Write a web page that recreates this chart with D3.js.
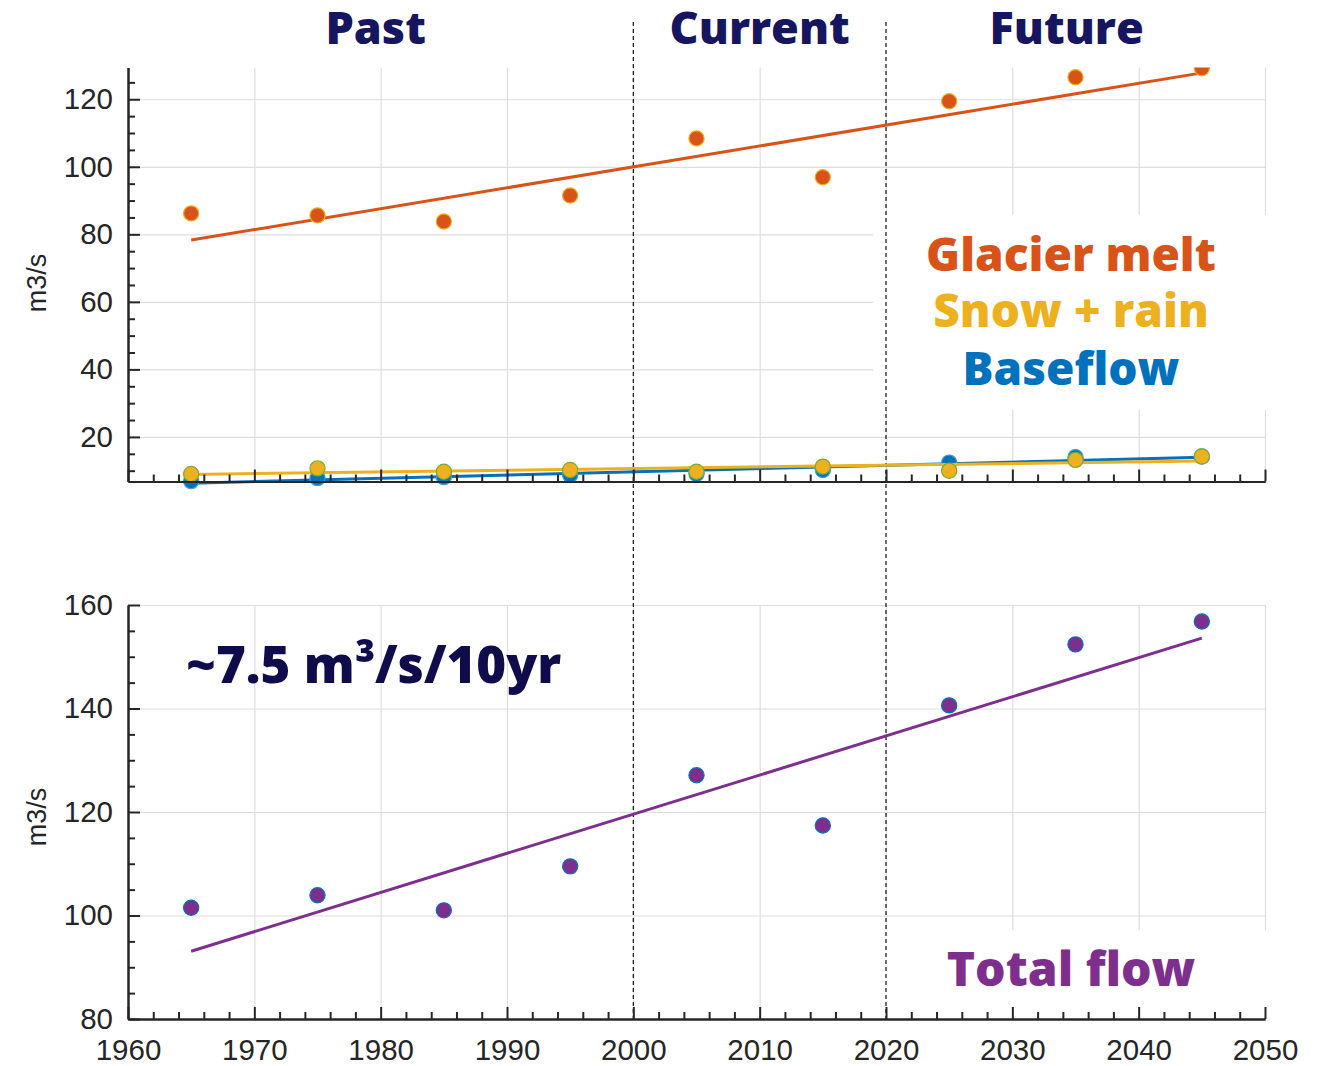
<!DOCTYPE html>
<head>
<meta charset="utf-8">
<script src="https://d3js.org/d3.v7.min.js"></script>
</head>
<body style="margin:0;background:#fff">
<svg width="1322" height="1066"></svg>
<style>
    text {
        font-family: "Liberation Sans", Arial, sans-serif;
    }
    .tick text {
        font-size: 29.5px;
        fill: #262626;
    }
    .axis path, .axis line {
        stroke: #262626;
        stroke-width: 2px;
    }
    .grid line {
        stroke: #dedede;
        stroke-width: 1.2px;
    }
    .grid path {
        display: none;
    }
    .big {
        font-family: "Open Sans", sans-serif;
        font-weight: 800;
    }
</style>
<script>

var years = [1965, 1975, 1985, 1995, 2005, 2015, 2025, 2035, 2045];
var glacierMelt = [86.2, 85.6, 83.8, 91.5, 108.4, 96.9, 119.4, 126.5, 129.2];
var snowRain = [9.0, 10.7, 9.7, 10.2, 9.7, 11.2, 10.0, 13.2, 14.2];
var baseflow = [6.9, 7.8, 8.1, 8.7, 9.0, 10.2, 12.4, 14.0, 14.2];
var totalFlow = [101.5, 103.9, 101.0, 109.5, 127.1, 117.4, 140.6, 152.4, 156.8];

var xTicks = [1960, 1970, 1980, 1990, 2000, 2010, 2020, 2030, 2040, 2050];
var topTicks = [20, 40, 60, 80, 100, 120];
var bottomTicks = [80, 100, 120, 140, 160];
var periods = ["Past", "Current", "Future"];
var periodCenters = [1979.6, 2010, 2034.3];
var periodBreaks = [2000, 2020];
var legendNames = ["Glacier melt", "Snow + rain", "Baseflow"];

var colors = {glacier: "#D95319", snow: "#EDB120", base: "#0072BD", total: "#7E2F8E"};

var svg = d3.select("svg"),
    left = 128, right = 1265;

var x = d3.scaleLinear().domain([1960, 2050]).range([left, right]);
var yTop = d3.scaleLinear().domain([6.8, 129.4]).range([481.5, 67.5]);
var yBot = d3.scaleLinear().domain([80, 160]).range([1019, 605]);

function range(a, b, step, skip) {
    var out = [];
    for (var v = a; v <= b + 1e-9; v += step) {
        if (skip.indexOf(v) < 0) out.push(v);
    }
    return out;
}

// least squares trend through the points
function linearFit(xs, ys) {
    var mx = d3.mean(xs), my = d3.mean(ys), num = 0, den = 0;
    for (var i = 0; i < xs.length; i++) {
        num += (xs[i] - mx) * (ys[i] - my);
        den += (xs[i] - mx) * (xs[i] - mx);
    }
    var b = num / den;
    return function(v) { return my + b * (v - mx); };
}

function drawGrid(y, major) {
    var y0 = y.range()[0], y1 = y.range()[1];
    var g = svg.append("g");
    g.append("g").attr("class", "grid")
        .attr("transform", "translate(0," + y0 + ")")
        .call(d3.axisBottom(x).tickValues(xTicks).tickSize(-(y0 - y1)).tickFormat(""));
    g.append("g").attr("class", "grid")
        .attr("transform", "translate(" + left + ",0)")
        .call(d3.axisLeft(y).tickValues(major).tickSize(-(right - left)).tickFormat(""));
}

function drawAxes(y, major, minorY, showLabels) {
    var y0 = y.range()[0];
    var minorX = range(1962, 2048, 2, xTicks);

    var ax = svg.append("g").attr("class", "axis");
    ax.append("g").attr("transform", "translate(" + left + ",0)")
        .call(d3.axisLeft(y).tickValues(minorY).tickSize(-7).tickSizeOuter(0).tickFormat(""));
    ax.append("g").attr("transform", "translate(" + left + ",0)")
        .call(d3.axisLeft(y).tickValues(major).tickSize(-12).tickSizeOuter(0).tickPadding(15));
    ax.append("g").attr("transform", "translate(0," + y0 + ")")
        .call(d3.axisBottom(x).tickValues(minorX).tickSize(-7).tickSizeOuter(0).tickFormat(""));
    ax.append("g").attr("transform", "translate(0," + y0 + ")")
        .call(d3.axisBottom(x).tickValues(xTicks).tickSize(-12).tickSizeOuter(0).tickPadding(20)
            .tickFormat(showLabels ? d3.format("d") : ""));
}

drawGrid(yTop, topTicks);
drawGrid(yBot, bottomTicks);

// white boxes behind the labels
svg.append("rect").attr("x", 873).attr("y", 215).attr("width", 410).attr("height", 195).attr("fill", "#fff");
svg.append("rect").attr("x", 873).attr("y", 930).attr("width", 410).attr("height", 80).attr("fill", "#fff");

// period separators
svg.selectAll(".sep").data(periodBreaks).enter().append("line")
    .attr("x1", function(d) { return x(d); })
    .attr("x2", function(d) { return x(d); })
    .attr("y1", 22).attr("y2", 1019)
    .attr("stroke", "#222").attr("stroke-width", 1.3)
    .attr("stroke-dasharray", "4,3");

svg.append("clipPath").attr("id", "clipTop")
    .append("rect").attr("x", 0).attr("y", 67.5).attr("width", 1322).attr("height", 460);

function series(y, values, color, edge, clip) {
    var g = svg.append("g");
    if (clip) g.attr("clip-path", "url(#clipTop)");
    var fit = linearFit(years, values);
    g.append("line")
        .attr("x1", x(years[0])).attr("y1", y(fit(years[0])))
        .attr("x2", x(years[years.length - 1])).attr("y2", y(fit(years[years.length - 1])))
        .attr("stroke", color).attr("stroke-width", 3);
    g.selectAll("circle").data(values).enter().append("circle")
        .attr("cx", function(d, i) { return x(years[i]); })
        .attr("cy", function(d) { return y(d); })
        .attr("r", 7.6)
        .attr("fill", color)
        .attr("stroke", edge).attr("stroke-width", 1.2);
}

series(yTop, glacierMelt, colors.glacier, colors.snow, true);
series(yTop, baseflow, colors.base, "#3d9be0", true);
series(yTop, snowRain, colors.snow, "#77AC30", true);
series(yBot, totalFlow, colors.total, colors.base, false);

drawAxes(yTop, topTicks, range(10, 125, 5, topTicks), false);
drawAxes(yBot, bottomTicks, range(85, 155, 5, bottomTicks), true);

// y labels
[283, 817].forEach(function(cy) {
    svg.append("text")
        .attr("transform", "translate(46," + cy + ") rotate(-90)")
        .attr("text-anchor", "middle")
        .attr("font-size", 27)
        .attr("fill", "#262626")
        .text("m3/s");
});

// titles
svg.selectAll(".period").data(periods).enter().append("text")
    .attr("class", "big")
    .attr("x", function(d, i) { return x(periodCenters[i]); })
    .attr("y", 44)
    .attr("text-anchor", "middle")
    .attr("font-size", 45)
    .attr("fill", "#151560")
    .text(function(d) { return d; });

var legendColors = [colors.glacier, colors.snow, colors.base];
var legendBase = [271, 327, 385];
svg.selectAll(".leg").data(legendNames).enter().append("text")
    .attr("class", "big")
    .attr("x", 1071)
    .attr("y", function(d, i) { return legendBase[i]; })
    .attr("text-anchor", "middle")
    .attr("font-size", 46)
    .attr("fill", function(d, i) { return legendColors[i]; })
    .text(function(d) { return d; });

svg.append("text")
    .attr("class", "big")
    .attr("x", 1071).attr("y", 986)
    .attr("text-anchor", "middle")
    .attr("font-size", 48)
    .attr("fill", colors.total)
    .text("Total flow");

svg.append("text")
    .attr("class", "big")
    .attr("x", 186).attr("y", 683)
    .attr("font-size", 51)
    .attr("fill", "#0e0c4a")
    .text("~7.5 m³/s/10yr");

</script>
</body>
